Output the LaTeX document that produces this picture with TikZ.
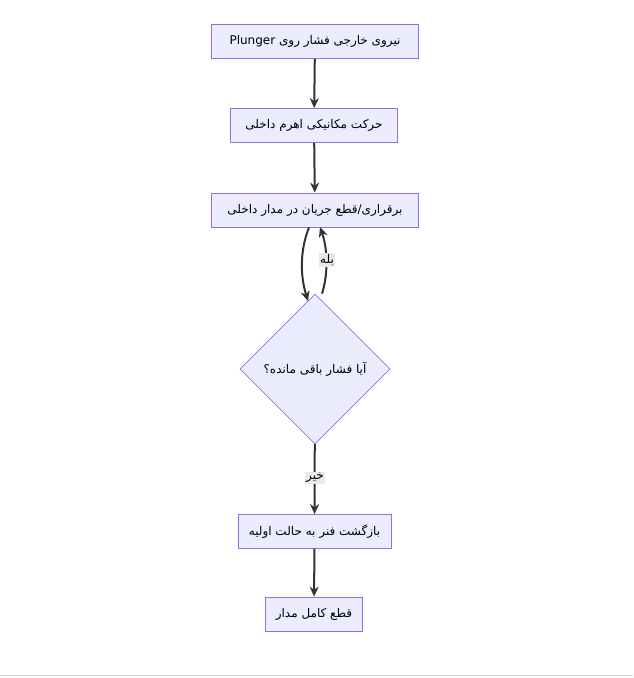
\documentclass[tikz,border=0pt]{standalone}
\usepackage{fontspec}
\newfontfamily\fa[Script=Arabic]{DejaVu Sans}
\TeXXeTstate=1
\usetikzlibrary{shapes.geometric,arrows.meta}
\definecolor{nfill}{HTML}{ECECFF}
\definecolor{nline}{HTML}{9370DB}
\definecolor{eline}{HTML}{333333}
\definecolor{lfill}{HTML}{E8E8E8}
\newcommand{\rtl}[1]{\beginR #1\endR}
\begin{document}
\begin{tikzpicture}[x=1pt,y=-1pt,
 box/.style={draw=nline,fill=nfill,line width=0.8pt,font=\fa\fontsize{12}{14}\selectfont,minimum height=34pt,inner xsep=10pt},
 dia/.style={draw=nline,fill=nfill,line width=0.8pt,diamond,font=\fa\fontsize{12}{14}\selectfont,minimum width=150pt,minimum height=150pt,inner sep=0pt},
 arr/.style={draw=eline,line width=2pt,-{Stealth[length=10pt,width=9pt]}},
 lab/.style={fill=lfill,font=\fa\fontsize{12}{14}\selectfont,inner sep=1.5pt}]
\useasboundingbox (0,0) rectangle (633,678);
\fill[white] (0,0) rectangle (633,678);
\draw[gray!30,line width=1pt] (0,675) -- (633,675);
\node[box,minimum width=207pt] (a) at (315,41.5) {\rtl{نیروی خارجی فشار روی \beginL Plunger\endL}};
\node[box,minimum width=167pt] (b) at (314,125.5) {\rtl{حرکت مکانیکی اهرم داخلی}};
\node[box,minimum width=207pt] (c) at (315,210) {\rtl{برقراری/قطع جریان در مدار داخلی}};
\node[dia] (d) at (315,369) {\rtl{آیا فشار باقی مانده؟}};
\node[box,minimum width=153pt] (e) at (314.5,531.5) {\rtl{بازگشت فنر به حالت اولیه}};
\node[box,minimum width=92pt] (f) at (314,614) {\rtl{قطع کامل مدار}};
\draw[arr] (a) -- (b);
\draw[arr] (b) -- (c);
\draw[arr] (c.south -| 309,0) .. controls (300,250) and (300,275) .. (308,301);
\draw[arr] (d.north -| 322,0) .. controls (328,275) and (328,250) .. (320,227);
\node[lab] (l1) at (327,260) {\rtl{بله}};
\draw[arr] (d) -- (e);
\node[lab] (l2) at (315,478) {\rtl{خیر}};
\draw[arr] (e) -- (f);
\end{tikzpicture}
\end{document}
